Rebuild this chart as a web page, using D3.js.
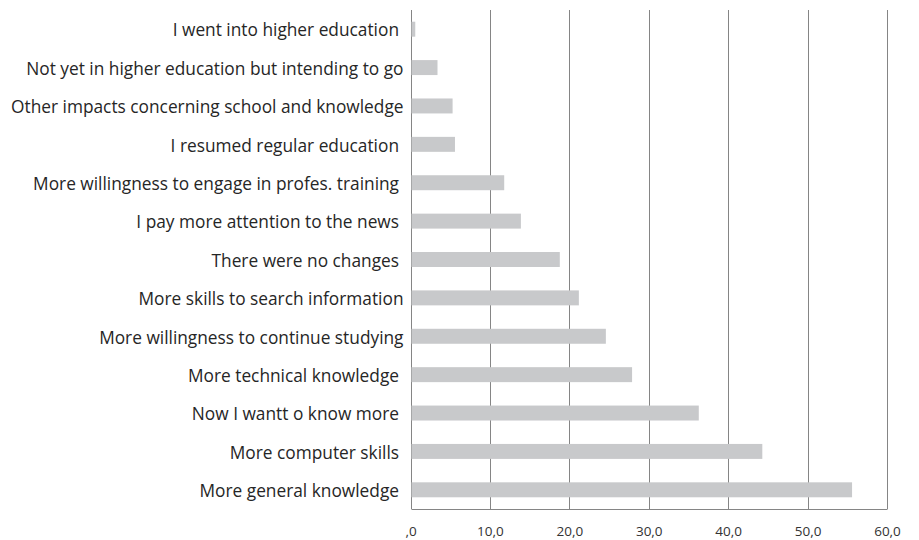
<!DOCTYPE html>
<html>
<head>
<meta charset="utf-8">
<script src="https://cdn.jsdelivr.net/npm/d3@7"></script>
<style>
  html, body { margin: 0; padding: 0; background: #fff; }
  svg { display: block; }
  text { white-space: pre; }
</style>
</head>
<body>
<svg id="chart" width="919" height="540"></svg>
<script>
// Reported changes, top to bottom (percent of respondents)
const categories = [
  "I went into higher education ",
  "Not yet in higher education but intending to go",
  "Other impacts concerning school and knowledge",
  "I resumed regular education ",
  "More willingness to engage in profes. training ",
  "I pay more attention to the news ",
  "There were no changes ",
  "More skills to search information",
  "More willingness to continue studying",
  "More technical knowledge ",
  "Now I wantt o know more ",
  "More computer skills ",
  "More general knowledge "
];
const values = [0.6, 3.4, 5.3, 5.6, 11.8, 13.9, 18.8, 21.2, 24.6, 27.9, 36.3, 44.3, 55.6];
const tickValues = [0, 10, 20, 30, 40, 50, 60];
const tickLabels = [",0", "10,0", "20,0", "30,0", "40,0", "50,0", "60,0"];

const svg = d3.select("#chart");
const margin = { top: 10, left: 410.5, right: 32, bottom: 31 };
const W = 919, H = 540;

const x = d3.scaleLinear().domain([0, 60]).range([margin.left, W - margin.right]);
const y = d3.scaleBand().domain(categories).range([margin.top, H - margin.bottom]).paddingInner(0.61).paddingOuter(0.305);

const font = "'Open Sans', sans-serif";

// vertical gridlines
svg.append("g")
  .selectAll("line")
  .data(tickValues)
  .join("line")
  .attr("x1", d => Math.round(x(d)) + 0.5)
  .attr("x2", d => Math.round(x(d)) + 0.5)
  .attr("y1", margin.top)
  .attr("y2", H - margin.bottom)
  .attr("stroke", "#858585")
  .attr("stroke-width", 1);

// bars
svg.append("g")
  .selectAll("rect")
  .data(categories)
  .join("rect")
  .attr("x", x(0) + 1)
  .attr("y", d => y(d))
  .attr("width", (d, i) => x(values[i]) - x(0) - 1)
  .attr("height", y.bandwidth())
  .attr("fill", "#c8c9cb");

// bottom axis line
svg.append("line")
  .attr("x1", Math.round(x(0)) + 0.5)
  .attr("x2", Math.round(x(60)) + 0.5)
  .attr("y1", H - margin.bottom + 0.5)
  .attr("y2", H - margin.bottom + 0.5)
  .attr("stroke", "#858585");

// x tick labels
const xAxis = d3.axisBottom(x)
  .tickValues(tickValues)
  .tickFormat((d, i) => tickLabels[i])
  .tickSize(0)
  .tickPadding(0);
const gx = svg.append("g")
  .attr("transform", `translate(0,${H - margin.bottom + 17})`)
  .call(xAxis);
gx.select(".domain").remove();
gx.selectAll("text")
  .attr("font-family", font)
  .attr("font-size", 13.5)
  .attr("fill", "#333");

// category labels, sized so the longest one spans the left margin
const yAxis = d3.axisLeft(y).tickSize(0).tickPadding(0);
const gy = svg.append("g")
  .attr("transform", `translate(${margin.left - 7},0)`)
  .call(yAxis);
gy.select(".domain").remove();
const labels = gy.selectAll("text")
  .attr("font-family", font)
  .attr("font-size", 15)
  .attr("fill", "#262626")
  .attr("dy", "0.42em");
const widest = d3.max(labels.nodes(), n => n.getComputedTextLength());
const fitted = 15 * 393 / widest;
labels.attr("font-size", fitted);
</script>
</body>
</html>
